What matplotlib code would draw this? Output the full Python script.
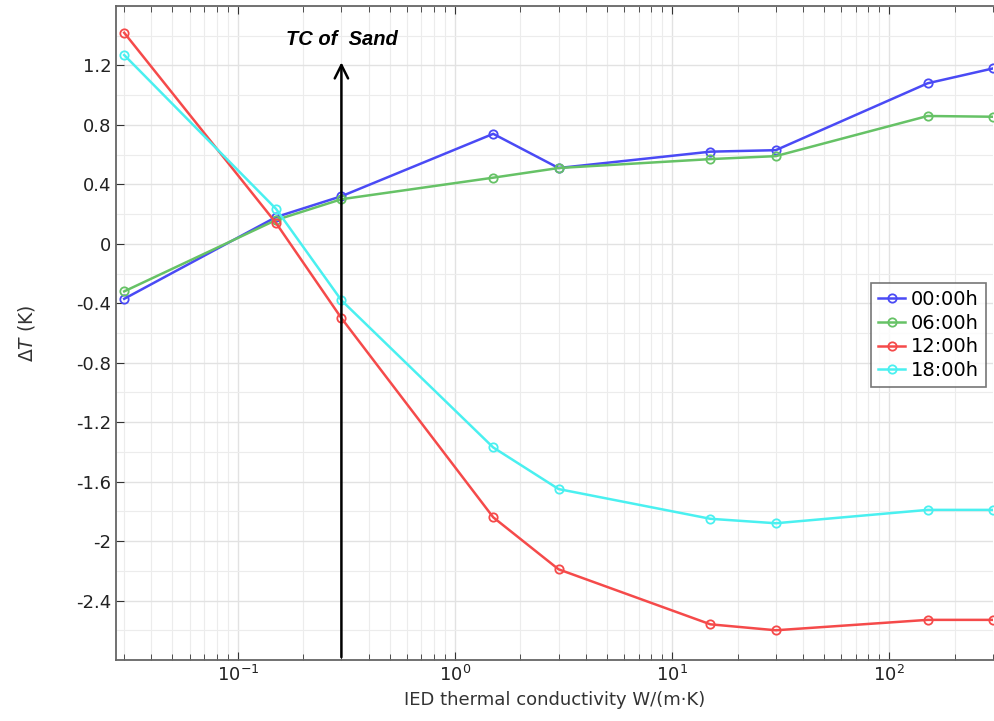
import matplotlib.pyplot as plt
from matplotlib.ticker import LogLocator, MultipleLocator, NullFormatter

# IED thermal conductivity samples, W/(m K)
conductivity = [0.03, 0.15, 0.3, 1.5, 3, 15, 30, 150, 300]

dT_00h = [-0.37, 0.18, 0.32, 0.74, 0.51, 0.62, 0.63, 1.08, 1.18]
dT_06h = [-0.32, 0.16, 0.30, 0.445, 0.51, 0.57, 0.59, 0.86, 0.855]
dT_12h = [1.42, 0.14, -0.50, -1.84, -2.19, -2.56, -2.60, -2.53, -2.53]
dT_18h = [1.27, 0.235, -0.38, -1.37, -1.65, -1.85, -1.88, -1.79, -1.79]

labels = ['00:00h', '06:00h', '12:00h', '18:00h']
colors = ['#4a4af5', '#66c266', '#f54a4a', '#4af0f0']

sand_tc = 0.3

fig = plt.figure(figsize=(9.94, 7.21), dpi=100)
ax = fig.add_axes([116 / 994, 61 / 721, 877 / 994, 654 / 721])

for y, lab, c in zip([dT_00h, dT_06h, dT_12h, dT_18h], labels, colors):
    ax.plot(conductivity, y, color=c, lw=1.8, marker='o', ms=6,
            mfc='none', mew=1.3, label=lab)

ax.set_xscale('log')
ax.set_xlim(0.0275, 300)
ax.set_ylim(-2.8, 1.6)

ax.yaxis.set_minor_locator(MultipleLocator(0.2))
ax.set_yticks([-2.4, -2, -1.6, -1.2, -0.8, -0.4, 0, 0.4, 0.8, 1.2])
ax.set_yticklabels(['-2.4', '-2', '-1.6', '-1.2', '-0.8', '-0.4', '0', '0.4', '0.8', '1.2'])
ax.xaxis.set_minor_locator(LogLocator(base=10, subs=range(2, 10), numticks=20))
ax.xaxis.set_minor_formatter(NullFormatter())

ax.grid(True, which='major', color='#e2e2e2', lw=1.0)
ax.grid(True, which='minor', color='#ececec', lw=0.8)
ax.set_axisbelow(True)

ax.tick_params(which='both', direction='in', top=True, right=False,
               labelsize=13, colors='#333333', labelcolor='#222222')
ax.tick_params(which='major', length=6)
ax.tick_params(which='minor', length=4)
ax.tick_params(axis='y', which='minor', length=0)
for s in ax.spines.values():
    s.set_color('#666666')
    s.set_linewidth(1.3)
ax.spines['right'].set_visible(False)

# arrow marking the thermal conductivity of sand
ax.annotate('', xy=(sand_tc, 1.24), xytext=(sand_tc, -2.8),
            arrowprops=dict(arrowstyle='->', color='black', lw=1.8,
                            mutation_scale=24))
ax.text(sand_tc, 1.375, 'TC of  Sand', ha='center', va='center',
        fontsize=14.5, fontweight='bold', fontstyle='italic',
        family='Liberation Sans')

ax.set_xlabel('IED thermal conductivity W/(m\u00b7K)', fontsize=13,
              color='#333333', labelpad=4)
ax.set_ylabel(r'$\mathit{\Delta T}$ (K)', fontsize=13.5, color='#333333',
              labelpad=28)

leg = ax.legend(loc='center right', bbox_to_anchor=(0.9985, 0.497),
                fontsize=14, frameon=True, fancybox=False, handlelength=1.4,
                handletextpad=0.3, borderpad=0.35, labelspacing=0.25,
                borderaxespad=0.3)
leg.get_frame().set_edgecolor('#555555')
leg.get_frame().set_linewidth(1.2)

fig.savefig('out.png', dpi=100)
